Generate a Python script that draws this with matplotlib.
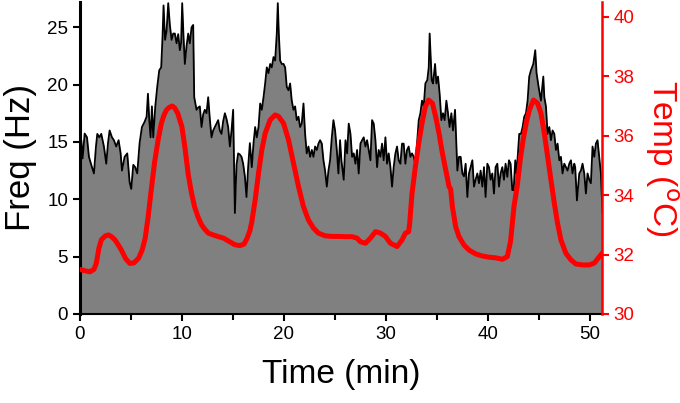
import matplotlib
matplotlib.use("Agg")
import matplotlib.pyplot as plt
from matplotlib.ticker import MultipleLocator

plt.rcParams['font.family'] = ['Liberation Sans', 'DejaVu Sans']

# Frequency trace (Hz) vs time (min)
freq_time = [0.0, 0.13, 0.26, 0.46, 0.69, 0.88, 1.11, 1.37, 1.57, 1.70, 1.90, 2.09, 2.35, 2.58, 2.75, 2.91,
             3.14, 3.33, 3.56, 3.79, 3.99, 4.12, 4.38, 4.64, 4.87, 5.03, 5.23, 5.42, 5.62, 5.85, 6.08,
             6.34, 6.54, 6.67, 6.80, 6.93, 7.06, 7.19, 7.39, 7.58, 7.78, 7.97, 8.10, 8.20, 8.35, 8.50,
             8.66, 8.82, 8.99, 9.15, 9.31, 9.48, 9.64, 9.80, 9.92, 10.03, 10.15, 10.29, 10.45, 10.62,
             10.78, 10.95, 11.11, 11.21, 11.44, 11.60, 11.76, 11.93, 12.09, 12.25, 12.42, 12.58, 12.75,
             12.91, 13.07, 13.24, 13.40, 13.56, 13.72, 13.89, 14.05, 14.22, 14.38, 14.54, 14.71, 14.87,
             15.03, 15.20, 15.36, 15.52, 15.69, 15.85, 16.01, 16.18, 16.34, 16.50, 16.67, 16.86, 17.03,
             17.19, 17.35, 17.52, 17.68, 17.84, 18.01, 18.17, 18.33, 18.50, 18.66, 18.82, 18.99, 19.15,
             19.31, 19.41, 19.51, 19.64, 19.80, 19.97, 20.13, 20.29, 20.46, 20.62, 20.78, 20.95, 21.11,
             21.27, 21.44, 21.60, 21.76, 21.93, 22.09, 22.25, 22.42, 22.58, 22.75, 22.91, 23.07, 23.24,
             23.40, 23.56, 23.73, 23.89, 24.05, 24.22, 24.38, 24.54, 24.71, 24.87, 25.03, 25.20, 25.36,
             25.52, 25.65, 25.88, 26.05, 26.21, 26.37, 26.54, 26.70, 26.86, 27.03, 27.19, 27.35, 27.52,
             27.68, 27.84, 28.01, 28.17, 28.33, 28.50, 28.66, 28.82, 28.99, 29.15, 29.31, 29.48, 29.64,
             29.80, 29.97, 30.13, 30.29, 30.46, 30.62, 30.78, 30.95, 31.11, 31.27, 31.44, 31.60, 31.76,
             31.93, 32.09, 32.25, 32.42, 32.58, 32.75, 32.91, 33.07, 33.24, 33.40, 33.56, 33.73, 33.89,
             34.08, 34.22, 34.31, 34.41, 34.51, 34.64, 34.84, 34.97, 35.13, 35.29, 35.46, 35.62, 35.78,
             35.95, 36.11, 36.27, 36.44, 36.60, 36.80, 37.03, 37.19, 37.35, 37.52, 37.68, 37.84, 38.01,
             38.17, 38.33, 38.50, 38.66, 38.82, 38.99, 39.15, 39.31, 39.48, 39.64, 39.80, 39.97, 40.13,
             40.29, 40.46, 40.62, 40.78, 40.95, 41.11, 41.27, 41.44, 41.60, 41.76, 41.93, 42.09, 42.25,
             42.42, 42.55, 42.71, 42.84, 43.10, 43.27, 43.43, 43.59, 43.76, 43.92, 44.08, 44.25, 44.48,
             44.67, 44.80, 45.00, 45.23, 45.46, 45.56, 45.72, 45.88, 46.05, 46.21, 46.37, 46.54, 46.70,
             46.86, 47.03, 47.19, 47.35, 47.52, 47.68, 47.84, 48.01, 48.17, 48.33, 48.50, 48.59, 48.76,
             48.99, 49.15, 49.31, 49.48, 49.64, 49.80, 49.97, 50.13, 50.29, 50.46, 50.62, 50.78, 50.95,
             51.11, 51.27]
freq_hz = [15.0, 15.15, 13.56, 15.73, 15.4, 13.7, 13.0, 12.25, 14.6, 15.7, 15.4, 15.7, 14.6, 13.1, 14.9, 16.0,
           15.4, 15.15, 14.6, 15.15, 14.0, 12.5, 13.7, 14.0, 11.5, 10.9, 13.0, 12.8, 12.25, 14.9, 16.3,
           16.75, 17.2, 19.2, 16.9, 15.4, 18.1, 15.4, 18.1, 19.8, 21.25, 21.5, 24.15, 26.9, 23.9, 24.7,
           27.1, 25.2, 23.9, 24.45, 24.45, 23.6, 24.4, 23.0, 23.6, 27.1, 24.4, 21.8, 23.3, 24.45,
           23.6, 25.0, 25.2, 18.9, 17.8, 18.0, 18.1, 16.3, 17.4, 17.8, 17.5, 18.9, 16.9,
           15.4, 16.0, 16.3, 16.6, 16.9, 16.0, 15.7, 16.8, 17.5, 17.0, 16.3, 14.6, 16.0,
           17.8, 8.8, 13.0, 14.0, 13.9, 13.7, 13.1, 12.0, 10.2, 12.8, 14.9, 12.8, 14.9,
           16.3, 15.4, 16.3, 18.35, 17.8, 18.9, 20.1, 21.5, 21.0, 21.8, 21.5, 22.4, 22.1,
           24.45, 27.1, 24.45, 22.1, 21.8, 21.8, 21.5, 19.8, 19.5, 20.1, 18.6, 17.8, 18.1,
           16.9, 17.2, 16.3, 16.6, 18.35, 15.7, 14.0, 14.6, 13.7, 14.3, 13.7, 14.6, 14.3,
           14.85, 15.15, 14.85, 13.4, 12.5, 11.1, 12.5, 13.4, 15.4, 16.9, 16.0, 14.3, 12.25,
           15.15, 13.4, 11.7, 15.15, 14.0, 16.6, 15.7, 13.7, 14.0, 13.1, 14.3, 12.25, 14.85,
           15.15, 15.4, 14.6, 15.15, 14.3, 13.4, 16.9, 16.6, 15.15, 12.8, 14.3, 13.7, 14.85,
           13.4, 15.4, 13.1, 14.0, 12.8, 11.1, 12.8, 14.0, 14.6, 13.4, 13.1, 14.85, 14.85,
           13.1, 14.3, 14.6, 13.7, 14.0, 13.7, 13.1, 14.85, 16.9, 17.5, 18.6, 18.1, 20.1,
           20.4, 21.5, 24.45, 22.4, 20.4, 20.1, 21.8, 20.1, 20.7, 19.2, 16.9, 17.5, 16.9,
           18.6, 17.5, 16.3, 17.5, 16.0, 17.8, 12.5, 13.7, 13.7, 12.25, 12.0, 13.1, 10.2,
           12.25, 12.8, 13.4, 11.1, 11.7, 12.25, 11.4, 12.5, 11.1, 12.8, 10.2, 13.1, 12.8,
           11.7, 12.25, 10.5, 12.8, 13.1, 11.1, 12.25, 12.8, 11.7, 13.1, 11.95, 13.4, 13.1,
           10.8, 10.8, 13.4, 12.25, 15.7, 15.7, 16.3, 17.2, 17.5, 18.6, 20.7, 21.25, 21.8,
           23.0, 21.0, 19.8, 18.6, 20.7, 18.9, 18.1, 15.7, 16.3, 15.15, 16.0, 15.7, 14.3,
           14.85, 13.4, 13.7, 12.25, 13.1, 12.8, 12.5, 13.1, 13.4, 12.25, 13.1, 12.8, 9.9,
           12.25, 12.5, 13.1, 12.25, 10.5, 12.25, 11.7, 11.4, 14.6, 13.7, 14.85, 15.15, 13.7,
           12.25, 8.8]

# Temperature trace (deg C) vs time (min)
temp_time = [0.0, 0.5, 0.98, 1.37, 1.6, 1.85, 2.1, 2.5, 2.8, 3.1, 3.42, 3.8, 4.06, 4.5, 4.9, 5.3,
             5.76, 6.1, 6.4, 6.7, 7.0, 7.32, 7.67, 7.97, 8.25, 8.5, 8.75, 9.05, 9.3, 9.6, 10.0, 10.3,
             10.62, 10.95, 11.25, 11.6, 11.93, 12.25, 12.6, 13.07, 13.6, 14.1, 14.54, 15.2, 15.69,
             16.1, 16.4, 16.67, 16.86, 17.19, 17.52, 17.84, 18.17, 18.66, 19.15, 19.48, 19.97,
             20.46, 20.95, 21.44, 21.93, 22.42, 22.91, 23.4, 24.05, 24.71, 25.36, 26.05, 26.7,
             27.19, 27.52, 28.01, 28.5, 28.99, 29.48, 29.97, 30.46, 31.11, 31.6, 31.93, 32.25,
             32.35, 32.58, 32.91, 33.24, 33.56, 33.89, 34.2, 34.58, 34.9, 35.23, 35.56, 35.88,
             36.21, 36.37, 36.54, 36.86, 37.19, 37.68, 38.17, 38.82, 39.48, 40.13, 40.78, 41.44,
             41.93, 42.25, 42.58, 42.9, 43.2, 43.5, 43.8, 44.1, 44.5, 44.9, 45.23, 45.56, 45.88,
             46.21, 46.54, 46.86, 47.19, 47.68, 48.17, 48.66, 49.31, 49.97, 50.46, 50.88, 51.27]
temp_c = [31.5, 31.45, 31.42, 31.5, 31.7, 32.2, 32.5, 32.63, 32.66, 32.6, 32.5, 32.3, 32.15, 31.85, 31.7, 31.72,
          31.88, 32.15, 32.55, 33.3, 34.2, 35.1, 35.86, 36.4, 36.7, 36.87, 36.95, 37.0, 36.93, 36.75, 36.3, 35.6,
          34.7, 34.06, 33.6, 33.25, 33.0, 32.85, 32.72, 32.66, 32.6, 32.55, 32.46, 32.33, 32.3,
          32.35, 32.55, 32.8, 33.1, 33.84, 34.74, 35.52, 36.08, 36.53, 36.7, 36.65, 36.42,
          35.86, 35.07, 34.29, 33.61, 33.16, 32.89, 32.72, 32.63, 32.61, 32.61, 32.6, 32.6,
          32.55, 32.43, 32.38, 32.55, 32.77, 32.72, 32.61, 32.38, 32.27, 32.49, 32.72, 32.77,
          33.05, 34.06, 34.96, 35.75, 36.42, 36.98, 37.2, 37.09, 36.64, 36.08, 35.41, 34.85,
          34.29, 34.2, 33.61, 32.94, 32.6, 32.32, 32.15, 32.02, 31.95, 31.91, 31.89, 31.84,
          31.93, 32.45, 33.61, 34.3, 35.2, 35.9, 36.45, 36.87, 37.2, 37.09, 36.76, 36.08, 35.3,
          34.51, 33.73, 33.05, 32.49, 32.04, 31.82, 31.68, 31.65, 31.65, 31.71, 31.89, 32.06]

x_ticks = [0, 10, 20, 30, 40, 50]
freq_ticks = [0, 5, 10, 15, 20, 25]
temp_ticks = [30, 32, 34, 36, 38, 40]

fig = plt.figure(figsize=(6.8, 4.03), dpi=100)
ax = fig.add_axes([0.1176, 0.221, 0.885 - 0.1176, 0.995 - 0.221])

ax.fill_between(freq_time, freq_hz, 0, color='#808080', linewidth=0)
ax.plot(freq_time, freq_hz, color='black', linewidth=1.3)
ax.set_xlim(0, 51.2)
ax.set_ylim(0, 27.2)
ax.set_xticks(x_ticks)
ax.xaxis.set_minor_locator(MultipleLocator(5))
ax.set_yticks(freq_ticks)

for s in ['top', 'right']:
    ax.spines[s].set_visible(False)
ax.spines['left'].set_linewidth(2.2)
ax.spines['bottom'].set_linewidth(1.5)
ax.tick_params(axis='both', which='major', direction='out', length=5, width=1.5, labelsize=13.5)
ax.tick_params(axis='x', which='minor', direction='out', length=4, width=1.5)
ax.set_xlabel('Time (min)', fontsize=24, labelpad=12)
ax.set_ylabel('Freq (Hz)', fontsize=25, labelpad=7)

ax2 = ax.twinx()
ax2.plot(temp_time, temp_c, color='#ff0000', linewidth=3.6, solid_capstyle='round')
ax2.set_ylim(30, 40.5)
ax2.set_yticks(temp_ticks)
for s in ['top', 'left', 'bottom']:
    ax2.spines[s].set_visible(False)
ax2.spines['right'].set_color('#ff0000')
ax2.spines['right'].set_linewidth(1.8)
ax2.tick_params(axis='y', colors='#ff0000', direction='out', length=5, width=1.5, labelsize=13.5)
ax2.set_ylabel('Temp ($^{\\rm o}$C)', fontsize=24, color='#ff0000', rotation=270,
               va='bottom', labelpad=6)

fig.savefig('out.png', dpi=100)
